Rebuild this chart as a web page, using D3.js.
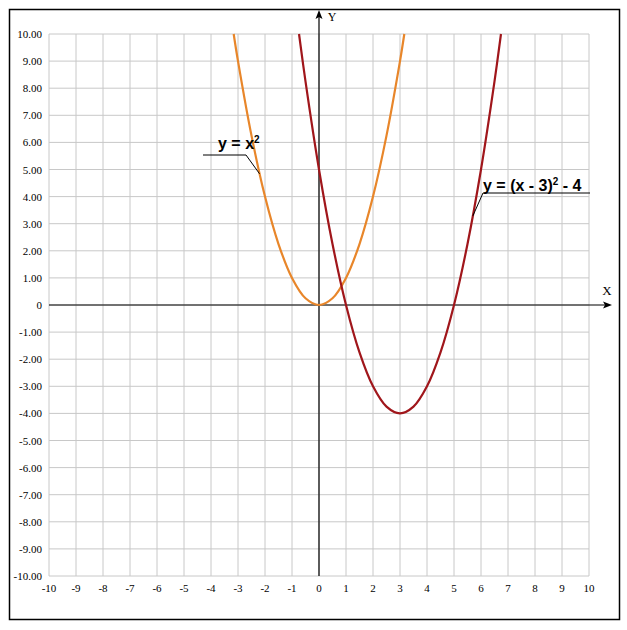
<!DOCTYPE html>
<html><head><meta charset="utf-8">
<script src="https://cdn.jsdelivr.net/npm/d3@7"></script>
<style>body{margin:0;background:#fff}</style>
</head><body>
<svg id="c" width="627" height="630"></svg>
<script>
const xTicks = [-10,-9,-8,-7,-6,-5,-4,-3,-2,-1,0,1,2,3,4,5,6,7,8,9,10];
const yTicks = [10,9,8,7,6,5,4,3,2,1,0,-1,-2,-3,-4,-5,-6,-7,-8,-9,-10];
const yTickLabels = ["10.00","9.00","8.00","7.00","6.00","5.00","4.00","3.00","2.00","1.00","0","-1.00","-2.00","-3.00","-4.00","-5.00","-6.00","-7.00","-8.00","-9.00","-10.00"];
const seriesA_x = [-3.16,-3,-2.5,-2,-1.5,-1,-0.5,0,0.5,1,1.5,2,2.5,3,3.16];
const seriesA_y = [10,9,6.25,4,2.25,1,0.25,0,0.25,1,2.25,4,6.25,9,10];
const seriesB_x = [-0.74,-0.5,0,0.5,1,1.5,2,2.5,3,3.5,4,4.5,5,5.5,6,6.5,6.74];
const seriesB_y = [10,8.25,5,2.25,0,-1.75,-3,-3.75,-4,-3.75,-3,-1.75,0,2.25,5,8.25,10];

const svg = d3.select("#c");
const x = d3.scaleLinear().domain([-10,10]).range([49,589]);
const y = d3.scaleLinear().domain([-10,10]).range([576,34]);

svg.append("rect").attr("x",9.5).attr("y",9.5).attr("width",610).attr("height",610)
  .attr("fill","none").attr("stroke","#000").attr("stroke-width",1.5);

const g = svg.append("g");
g.selectAll(".vx").data(xTicks).join("line")
  .attr("x1",d=>x(d)).attr("x2",d=>x(d)).attr("y1",y(10)).attr("y2",y(-10))
  .attr("stroke","#c8c8c8").attr("stroke-width",1);
g.selectAll(".hy").data(yTicks).join("line")
  .attr("y1",d=>y(d)).attr("y2",d=>y(d)).attr("x1",x(-10)).attr("x2",x(10))
  .attr("stroke","#c8c8c8").attr("stroke-width",1);

const font = "'Liberation Serif','Times New Roman',serif";
svg.selectAll(".yl").data(yTicks).join("text")
  .attr("x",42).attr("y",d=>y(d)+4).attr("text-anchor","end")
  .attr("font-family",font).attr("font-size",11).attr("fill","#000")
  .text((d,i)=>yTickLabels[i]);
svg.selectAll(".xl").data(xTicks).join("text")
  .attr("x",d=>x(d)).attr("y",592).attr("text-anchor","middle")
  .attr("font-family",font).attr("font-size",11).attr("fill","#000")
  .text(d=>d);

// axes
svg.append("line").attr("x1",x(-10)).attr("x2",606).attr("y1",y(0)).attr("y2",y(0))
  .attr("stroke","#000").attr("stroke-width",1.2);
svg.append("path").attr("d",`M612,${y(0)} L603,${y(0)-3.5} L605,${y(0)} L603,${y(0)+3.5} Z`).attr("fill","#000");
svg.append("line").attr("x1",x(0)).attr("x2",x(0)).attr("y1",y(-10)).attr("y2",16)
  .attr("stroke","#000").attr("stroke-width",1.2);
svg.append("path").attr("d",`M${x(0)},10 L${x(0)-3.5},19 L${x(0)},17 L${x(0)+3.5},19 Z`).attr("fill","#000");
svg.append("text").attr("x",607).attr("y",295).attr("text-anchor","middle")
  .attr("font-family",font).attr("font-size",13).text("X");
svg.append("text").attr("x",332).attr("y",21).attr("text-anchor","middle")
  .attr("font-family",font).attr("font-size",12).text("Y");

const line = d3.line().x(d=>x(d[0])).y(d=>y(d[1])).curve(d3.curveCatmullRom.alpha(0.5));
svg.append("path").datum(seriesA_x.map((v,i)=>[v,seriesA_y[i]])).attr("d",line)
  .attr("fill","none").attr("stroke","#e8862a").attr("stroke-width",2.2);
svg.append("path").datum(seriesB_x.map((v,i)=>[v,seriesB_y[i]])).attr("d",line)
  .attr("fill","none").attr("stroke","#a0161b").attr("stroke-width",2.2);

// annotations
const af = "'Liberation Sans',Arial,sans-serif";
svg.append("path").attr("d",`M203,155 L246,155 L${x(-2.2)},${y(2.2*2.2)}`)
  .attr("fill","none").attr("stroke","#000").attr("stroke-width",1);
const t1 = svg.append("text").attr("x",218).attr("y",149).attr("font-family",af)
  .attr("font-size",16).attr("font-weight","bold");
t1.append("tspan").text("y = x");
t1.append("tspan").attr("font-size",10).attr("dy",-6).text("2");

svg.append("path").attr("d",`M590,193 L483,193 L${x(5.7)},${y(5.7*5.7-11.4*3+5)}`)
  .attr("fill","none").attr("stroke","#000").attr("stroke-width",1);
const t2 = svg.append("text").attr("x",483).attr("y",191).attr("font-family",af)
  .attr("font-size",16).attr("font-weight","bold");
t2.append("tspan").text("y = (x - 3)");
t2.append("tspan").attr("font-size",10).attr("dy",-6).text("2");
t2.append("tspan").attr("dy",6).text(" - 4");
</script>
</body></html>
